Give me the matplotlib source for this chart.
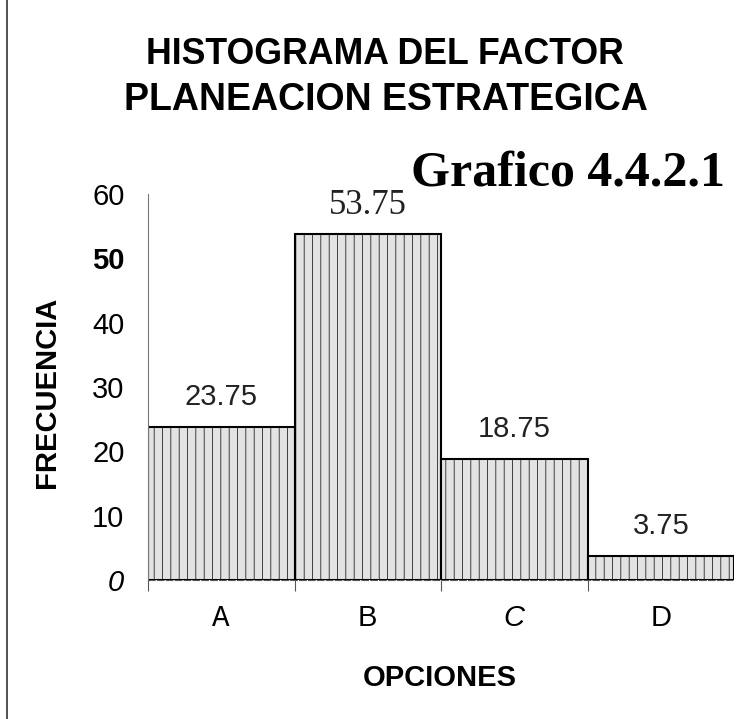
import matplotlib
matplotlib.use("Agg")
import matplotlib.pyplot as plt
from matplotlib.lines import Line2D

categories = ["A", "B", "C", "D"]
values = [23.75, 53.75, 18.75, 3.75]
value_labels = ["23.75", "53.75", "18.75", "3.75"]
yticks = [0, 10, 20, 30, 40, 50, 60]
ytick_labels = ["0", "10", "20", "30", "40", "50", "60"]
title_line1 = "HISTOGRAMA DEL FACTOR"
title_line2 = "PLANEACION ESTRATEGICA"
subtitle = "Grafico 4.4.2.1"
xlabel = "OPCIONES"
ylabel = "FRECUENCIA"

plt.rcParams["hatch.linewidth"] = 0.5
plt.rcParams["hatch.color"] = "#a0a0a0"

W, H = 739, 719
fig = plt.figure(figsize=(W / 100, H / 100), dpi=100)
ax = fig.add_axes([148 / W, 1 - 580 / H, (734 - 148) / W, (580 - 194) / H])

x = list(range(len(categories)))
ax.bar(x, values, width=1.0, facecolor="#e3e3e3", edgecolor="black",
       linewidth=1.5, hatch="||")

ax.set_xlim(-0.5, 3.5)
ax.set_ylim(0, 60)

for xi, v, lab in zip(x, values, value_labels):
    if lab == "53.75":
        ax.annotate(lab, (xi, v), xytext=(0, 29), textcoords="offset pixels",
                    ha="center", va="center", fontsize=25,
                    family="Liberation Serif", color="#222")
    else:
        ax.annotate(lab, (xi, v), xytext=(0, 30), textcoords="offset pixels",
                    ha="center", va="center", fontsize=21,
                    family="Liberation Sans", color="#222")

# spines
for s in ["top", "right"]:
    ax.spines[s].set_visible(False)
ax.spines["left"].set_color("#777")
ax.spines["left"].set_linewidth(0.8)
ax.spines["bottom"].set_color("#555")
ax.spines["bottom"].set_linewidth(0.8)
ax.spines["bottom"].set_linestyle((0, (6, 2)))

# y ticks
ax.set_yticks(yticks)
ax.set_yticklabels(ytick_labels, fontsize=21, family="Liberation Sans")
ax.tick_params(axis="y", length=0, pad=17)
for t in ax.get_yticklabels():
    if t.get_text() == "0":
        t.set_style("italic")
    if t.get_text() == "50":
        t.set_weight("bold")

# x ticks
ax.set_xticks(x)
ax.set_xticklabels(categories, fontsize=21)
ax.tick_params(axis="x", length=0, pad=17)
fams = ["Liberation Mono", "Liberation Sans", "Liberation Sans", "Liberation Sans"]
for t, f in zip(ax.get_xticklabels(), fams):
    t.set_family(f)
    if t.get_text() == "C":
        t.set_style("italic")
ax.set_xticks([-0.5, 0.5, 1.5, 2.5], minor=True)
ax.tick_params(axis="x", which="minor", length=8, width=0.8, color="#555", direction="out")

fig.text(440 / W, 1 - 678 / H, xlabel, ha="center", va="center",
         fontsize=21, weight="bold", family="Liberation Sans")
fig.text(47 / W, 1 - 392 / H, ylabel, ha="center", va="center", rotation=90,
         fontsize=21, weight="bold", family="Liberation Sans")

# titles
fig.text(385 / W, 1 - 55 / H, title_line1, ha="center", va="center",
         fontsize=25.7, weight="bold", family="Liberation Sans")
fig.text(386 / W, 1 - 100 / H, title_line2, ha="center", va="center",
         fontsize=27, weight="bold", family="Liberation Sans")
fig.text(725 / W, 1 - 173 / H, subtitle, ha="right", va="center",
         fontsize=36, weight="bold", family="Liberation Serif")

# page border line at left
fig.add_artist(Line2D([7 / W, 7 / W], [0, 1], color="#333", linewidth=1.2,
                      transform=fig.transFigure))

fig.savefig("out.png", dpi=100)
